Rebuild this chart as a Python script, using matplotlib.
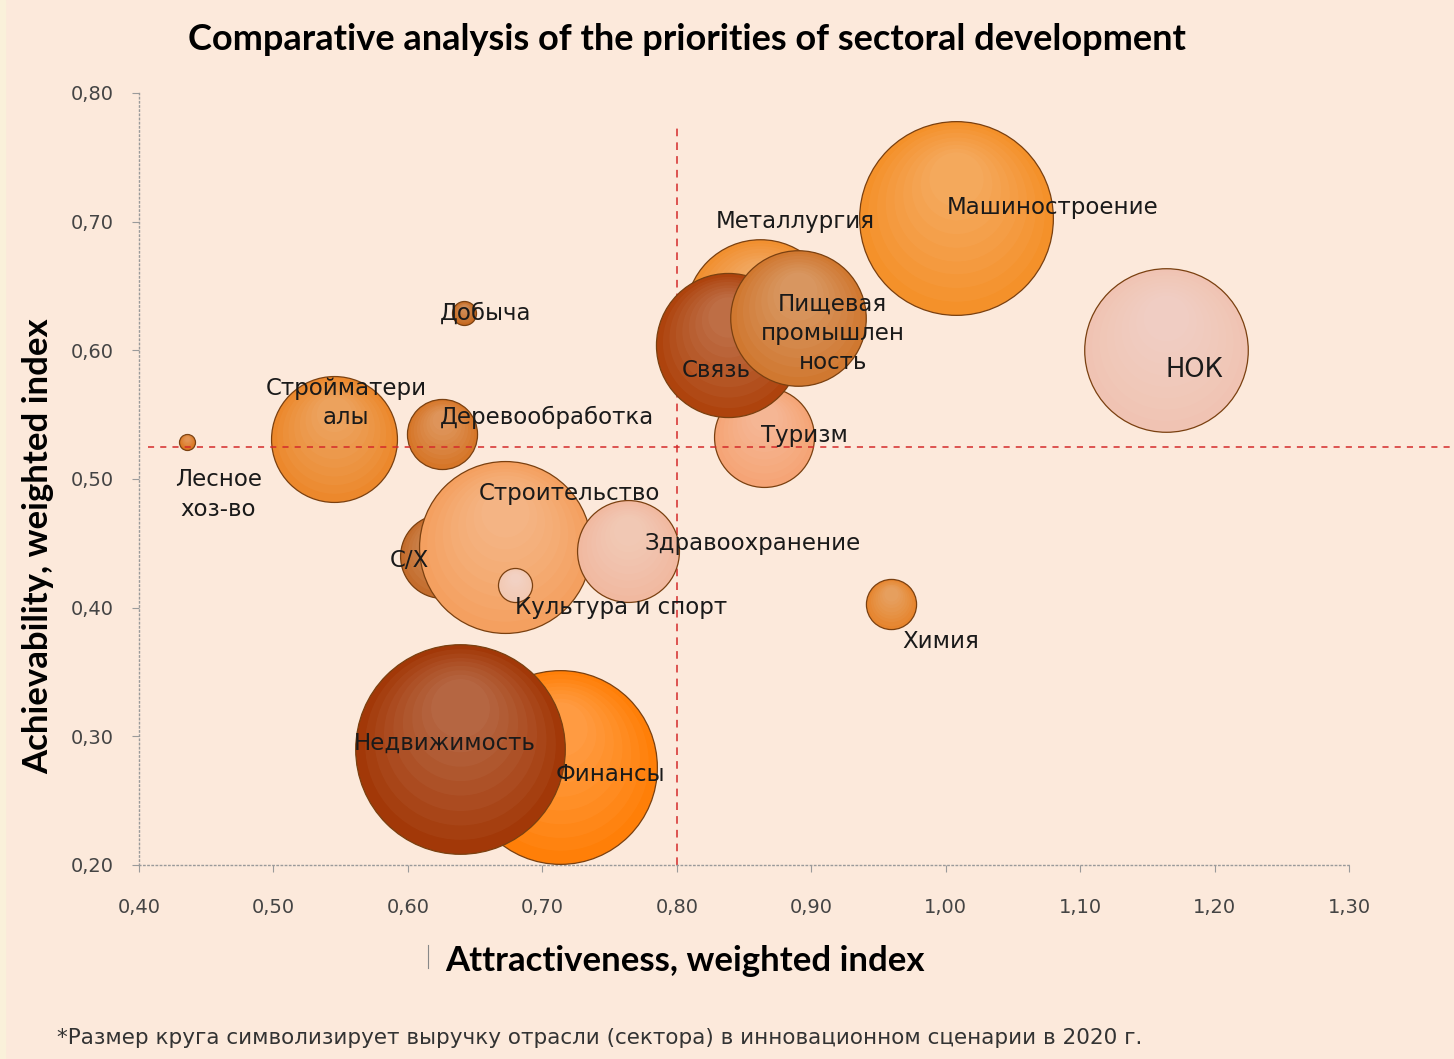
import matplotlib
matplotlib.use("Agg")
import numpy as np
import matplotlib.pyplot as plt
from matplotlib.lines import Line2D

# ---------------- data ----------------
sectors = ['Лесное хоз-во', 'Стройматериалы', 'Деревообработка', 'Добыча', 'С/Х',
           'Строительство', 'Здравоохранение', 'Культура и спорт', 'Финансы',
           'Недвижимость', 'Туризм', 'Металлургия', 'Связь',
           'Пищевая промышленность', 'Машиностроение', 'НОК', 'Химия']
attractiveness = [0.436, 0.545, 0.625, 0.642, 0.625, 0.672, 0.764, 0.680, 0.713,
                  0.639, 0.865, 0.862, 0.838, 0.890, 1.008, 1.164, 0.959]
achievability = [0.529, 0.531, 0.535, 0.629, 0.440, 0.447, 0.444, 0.418, 0.276,
                 0.290, 0.533, 0.628, 0.604, 0.625, 0.703, 0.600, 0.403]
revenue_2020 = [0.64, 39.7, 12.3, 1.44, 17.6, 74.0, 26.0, 2.9, 94.0,
                110.0, 25.0, 56.0, 52.0, 46.0, 94.0, 67.0, 6.3]

label_texts = ['Лесное\nхоз-во', 'Стройматери\nалы', 'Деревообработка', 'Добыча', 'С/Х',
               'Строительство', 'Здравоохранение', 'Культура и спорт', 'Финансы',
               'Недвижимость', 'Туризм', 'Металлургия', 'Связь',
               'Пищевая\nпромышлен\nность', 'Машиностроение', 'НОК', 'Химия']

x_ticks = [0.40, 0.50, 0.60, 0.70, 0.80, 0.90, 1.00, 1.10, 1.20, 1.30]
x_tick_labels = ['0,40', '0,50', '0,60', '0,70', '0,80', '0,90', '1,00', '1,10', '1,20', '1,30']
y_ticks = [0.20, 0.30, 0.40, 0.50, 0.60, 0.70, 0.80]
y_tick_labels = ['0,20', '0,30', '0,40', '0,50', '0,60', '0,70', '0,80']

attract_threshold = 0.80
achiev_threshold = 0.525

# ---------------- styling ----------------
colors = ['#DB7620', '#EC882C', '#D67628', '#C66920', '#C36C2C',
          '#F4A060', '#F1B9A0', '#F2C9B3', '#FF7F08',
          '#A23808', '#F5A476', '#F19030', '#AE430D',
          '#D07830', '#F4912A', '#F0C3B3', '#E6842D']
edge_color = '#7A4010'

label_pos = {
    'Лесное хоз-во': (0.459, 0.488, 'center'),
    'Стройматериалы': (0.554, 0.559, 'center'),
    'Деревообработка': (0.624, 0.548, 'left'),
    'Добыча': (0.624, 0.629, 'left'),
    'С/Х': (0.601, 0.437, 'center'),
    'Строительство': (0.720, 0.489, 'center'),
    'Здравоохранение': (0.776, 0.450, 'left'),
    'Культура и спорт': (0.680, 0.400, 'left'),
    'Финансы': (0.710, 0.270, 'left'),
    'Недвижимость': (0.627, 0.295, 'center'),
    'Туризм': (0.895, 0.534, 'center'),
    'Металлургия': (0.888, 0.700, 'center'),
    'Связь': (0.804, 0.584, 'left'),
    'Пищевая промышленность': (0.916, 0.613, 'center'),
    'Машиностроение': (1.001, 0.711, 'left'),
    'НОК': (1.185, 0.585, 'center'),
    'Химия': (0.996, 0.374, 'center'),
}

# drawing order (back to front)
order = ['Лесное хоз-во', 'Стройматериалы', 'Деревообработка', 'Добыча', 'С/Х',
         'Строительство', 'Здравоохранение', 'Культура и спорт', 'Финансы',
         'Недвижимость', 'Туризм', 'Металлургия', 'Связь',
         'Пищевая промышленность', 'Машиностроение', 'НОК', 'Химия']

BG = '#FCE9DB'
W, H, DPI = 1454, 1059, 100
fig = plt.figure(figsize=(W / DPI, H / DPI), dpi=DPI, facecolor=BG)
ax_left, ax_right, ax_top, ax_bottom = 139, 1349, 93, 865
ax = fig.add_axes([ax_left / W, 1 - ax_bottom / H, (ax_right - ax_left) / W, (ax_bottom - ax_top) / H])
ax.set_facecolor(BG)
ax.set_xlim(0.40, 1.30)
ax.set_ylim(0.20, 0.80)

# light strip on the left edge
fig.patches.append(plt.Rectangle((0, 0), 5 / W, 1, transform=fig.transFigure,
                                 color='#FAF1DA', zorder=0))

SIZE_SCALE = 207.0  # points^2 per revenue unit
y_per_px = 0.60 / (ax_bottom - ax_top)
for z, name in enumerate(order):
    i = sectors.index(name)
    s = revenue_2020[i] * SIZE_SCALE
    base_z = 3 + z * 0.02
    ax.scatter([attractiveness[i]], [achievability[i]], s=s, c=colors[i],
               edgecolors=edge_color, linewidths=0.9, zorder=base_z)
    # smooth highlight toward the top for a 3D look
    r_px = np.sqrt(s) / 2 * DPI / 72
    for k in range(1, 9):
        f = 1 - k * 0.09
        dy = (1 - f) * r_px * 0.55 * y_per_px
        ax.scatter([attractiveness[i]], [achievability[i] + dy], s=s * f * f, c='white',
                   alpha=0.035, linewidths=0, zorder=base_z + 0.001 * k)

# threshold lines
ax.plot([attract_threshold, attract_threshold], [0.20, 0.774], color='#D42A2A',
        lw=1.1, ls=(0, (5, 4)), zorder=2.5)
ax.plot([0.407, 1.375], [achiev_threshold, achiev_threshold], color='#D42A2A',
        lw=1.1, ls=(0, (4, 4)), zorder=6, clip_on=False)

# labels
for i, name in enumerate(sectors):
    lx, ly, ha = label_pos[name]
    fs = 18.5 if name == 'НОК' else 16.5
    ax.text(lx, ly, label_texts[i], ha=ha, va='center', fontsize=fs,
            family='DejaVu Sans', color='#1A1A1A', zorder=10,
            linespacing=1.35)

# axes styling
for side in ['top', 'right']:
    ax.spines[side].set_visible(False)
for side in ['left', 'bottom']:
    ax.spines[side].set_linestyle((0, (1, 2)))
    ax.spines[side].set_color('#9A9A9A')
    ax.spines[side].set_linewidth(1.0)
ax.set_xticks(x_ticks)
ax.set_xticklabels(x_tick_labels)
ax.set_yticks(y_ticks)
ax.set_yticklabels(y_tick_labels)
ax.tick_params(axis='both', colors='#9A9A9A', length=5, width=0.8,
               labelcolor='#444444', labelsize=14)
ax.tick_params(axis='x', pad=19)
ax.tick_params(axis='y', pad=13)

# titles
fig.text(687 / W, 1 - 40 / H, 'Comparative analysis of the priorities of sectoral development',
         ha='center', va='center', fontsize=26, fontweight='bold', family='Lato', color='black')
fig.text(38 / W, 1 - 546 / H, 'Achievability, weighted index', rotation=90,
         ha='center', va='center', fontsize=25, fontweight='bold', family='Lato', color='black')
fig.text(685 / W, 1 - 961 / H, 'Attractiveness, weighted index',
         ha='center', va='center', fontsize=25, fontweight='bold', family='Lato', color='black')
fig.add_artist(Line2D([428 / W, 428 / W], [1 - 968 / H, 1 - 945 / H],
                      transform=fig.transFigure, color='#888888', lw=0.8))
fig.text(57 / W, 1 - 1038 / H,
         '*Размер круга символизирует выручку отрасли (сектора) в инновационном сценарии в 2020 г.',
         ha='left', va='center', fontsize=15.5, family='DejaVu Sans', color='#333333')

fig.savefig('out.png', dpi=DPI, facecolor=BG)
